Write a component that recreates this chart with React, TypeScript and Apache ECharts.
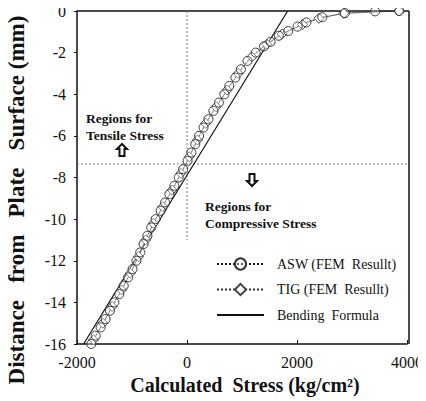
import React, { useEffect, useRef } from "react";
import * as echarts from "echarts";

// ASW (FEM Result): [stress, depth]
const aswStress = [-1740, -1660, -1570, -1480, -1400, -1320, -1230, -1150, -1070, -990, -920, -850, -790, -720, -650, -570, -480, -400, -320, -230, -150, -70, 10, 80, 150, 220, 300, 390, 480, 580, 680, 770, 880, 980, 1100, 1250, 1400, 1520, 1670, 1840, 2010, 2170, 2460, 2870, 3420, 3860];
const aswDepth = [-16.0, -15.6, -15.2, -14.8, -14.4, -14.0, -13.6, -13.2, -12.8, -12.4, -12.0, -11.6, -11.2, -10.8, -10.4, -10.0, -9.6, -9.2, -8.8, -8.4, -8.0, -7.6, -7.2, -6.8, -6.4, -6.0, -5.6, -5.2, -4.8, -4.4, -4.0, -3.6, -3.2, -2.8, -2.4, -2.0, -1.7, -1.48, -1.19, -0.96, -0.75, -0.55, -0.3, -0.1, -0.02, 0];

// TIG (FEM Result)
const tigStress = [-1700, -1530, -1360, -1190, -1030, -880, -750, -610, -440, -270, -110, 40, 190, 340, 530, 730, 930, 1180, 1450, 1730, 2100, 2400, 2850, 3850];
const tigDepth = [-15.8, -15.0, -14.2, -13.4, -12.6, -11.8, -11.0, -10.2, -9.4, -8.6, -7.8, -7.0, -6.2, -5.4, -4.6, -3.8, -3.0, -2.2, -1.6, -1.1, -0.65, -0.35, -0.12, 0];

// Bending Formula
const bendStress = [-1880, 1830];
const bendDepth = [-16, 0];

// Reference lines
const neutralDepth = -7.35;
const vLineDepth = [0, -11];

const xTicks = { min: -2000, max: 4000, interval: 2000 };
const yTicks = { min: -16, max: 0, interval: 2 };

const serif = "'Liberation Serif', 'Times New Roman', serif";
const ASW = "ASW (FEM  Resullt)";
const TIG = "TIG (FEM  Resullt)";
const BEND = "Bending  Formula";

export default function App() {
  const ref = useRef<HTMLDivElement>(null);
  useEffect(() => {
    if (!ref.current) return;
    const chart = echarts.init(ref.current, undefined, { renderer: "svg" });
    const zip = (a: number[], b: number[]) => a.map((v, i) => [v, b[i]]);
    chart.setOption({
      animation: false,
      backgroundColor: "#fff",
      grid: { left: 77, right: 17, top: 11, bottom: 57, show: false },
      xAxis: {
        type: "value",
        min: xTicks.min,
        max: xTicks.max,
        interval: xTicks.interval,
        name: "Calculated  Stress (kg/cm\u00B2)",
        nameLocation: "middle",
        nameGap: 30,
        nameTextStyle: { fontFamily: serif, fontWeight: "bold", fontSize: 20, color: "#111", padding: [0, 0, 0, 6] },
        axisLine: { show: true, onZero: false, lineStyle: { color: "#111", width: 1.5 } },
        axisTick: { show: true, inside: true, length: 4, lineStyle: { color: "#111" } },
        axisLabel: { fontFamily: serif, fontSize: 16, color: "#111", margin: 10, formatter: (v: number) => String(v) },
        splitLine: { show: false },
      },
      yAxis: {
        type: "value",
        min: yTicks.min,
        max: yTicks.max,
        interval: yTicks.interval,
        axisLine: { show: true, onZero: false, lineStyle: { color: "#111", width: 1.5 } },
        axisTick: { show: true, inside: false, length: 3, lineStyle: { color: "#111" } },
        axisLabel: { fontFamily: serif, fontSize: 16, color: "#111", margin: 11, formatter: (v: number) => String(v) },
        splitLine: { show: false },
      },
      legend: {
        orient: "vertical",
        left: 211,
        top: 252,
        itemWidth: 47,
        itemHeight: 14,
        itemGap: 11.5,
        textStyle: { fontFamily: serif, fontSize: 14, color: "#111", padding: [0, 0, 0, 8] },
        data: [
          { name: ASW },
          { name: TIG },
          { name: BEND, itemStyle: { color: "transparent", borderColor: "transparent" } },
        ],
      },
      graphic: [
        { type: "line", shape: { x1: 77, y1: 11, x2: 409, y2: 11 }, style: { stroke: "#111", lineWidth: 1.5 } },
        { type: "line", shape: { x1: 409, y1: 11, x2: 409, y2: 344 }, style: { stroke: "#111", lineWidth: 1.5 } },
        {
          type: "text",
          x: 16,
          y: 200,
          rotation: Math.PI / 2,
          style: {
            text: "Distance   from   Plate   Surface (mm)",
            font: `bold 23px ${serif}`,
            fill: "#111",
            align: "center",
            verticalAlign: "middle",
          },
        },
        {
          type: "text", left: 86, top: 110,
          style: { text: "Regions for\nTensile Stress", font: `bold 13.5px ${serif}`, fill: "#111", lineHeight: 17 },
        },
        {
          type: "text", left: 205, top: 198,
          style: { text: "Regions for\nCompressive Stress", font: `bold 13.5px ${serif}`, fill: "#111", lineHeight: 17 },
        },
        {
          type: "polygon",
          shape: { points: [[122, 144], [127, 149], [124.5, 149], [124.5, 156], [119.5, 156], [119.5, 149], [117, 149]] },
          style: { fill: "#fff", stroke: "#111", lineWidth: 2 },
        },
        {
          type: "polygon",
          shape: { points: [[252, 186], [257, 181], [254.5, 181], [254.5, 174], [249.5, 174], [249.5, 181], [247, 181]] },
          style: { fill: "#fff", stroke: "#111", lineWidth: 2 },
        },
      ],
      series: [
        {
          name: "neutral",
          type: "line",
          data: [[xTicks.min, neutralDepth], [xTicks.max, neutralDepth]],
          symbol: "none",
          silent: true,
          lineStyle: { color: "#777", width: 1, type: [2, 2] },
        },
        {
          name: "zero",
          type: "line",
          data: vLineDepth.map((d) => [0, d]),
          symbol: "none",
          silent: true,
          lineStyle: { color: "#777", width: 1, type: [2, 2] },
        },
        {
          name: BEND,
          type: "line",
          data: zip(bendStress, bendDepth),
          symbol: "none",
          lineStyle: { color: "#111", width: 1.2 },
          itemStyle: { color: "#111" },
        },
        {
          name: TIG,
          type: "line",
          data: zip(tigStress, tigDepth),
          symbol: "diamond",
          symbolSize: 10,
          showAllSymbol: true,
          lineStyle: { color: "#333", width: 1, type: "dotted" },
          itemStyle: { color: "#fff", borderColor: "#444", borderWidth: 1 },
        },
        {
          name: ASW,
          type: "line",
          data: zip(aswStress, aswDepth),
          symbol: "circle",
          symbolSize: 9,
          showAllSymbol: true,
          lineStyle: { color: "#222", width: 1, type: "dotted" },
          itemStyle: { color: "rgba(255,255,255,0.3)", borderColor: "#333", borderWidth: 1 },
        },
      ],
    });
    return () => chart.dispose();
  }, []);
  return <div ref={ref} style={{ width: 426, height: 401, marginLeft: -8, marginTop: -8 }} />;
}
